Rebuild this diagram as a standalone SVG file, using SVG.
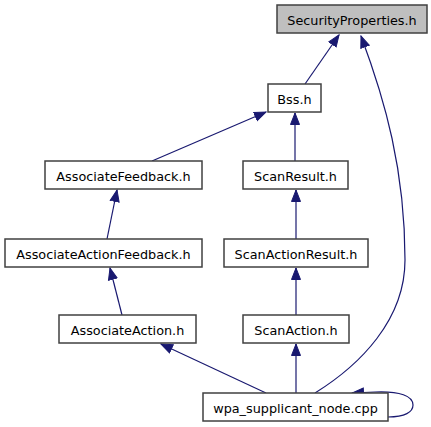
<svg xmlns="http://www.w3.org/2000/svg" width="431" height="427" viewBox="0 0 431 427">
<style>
.node rect{fill:#ffffff;stroke:#404040;stroke-width:1.5}
.node.root rect{fill:#bfbfbf}
.node text{font-family:"DejaVu Sans",sans-serif;font-size:12.8px;fill:#000000;text-anchor:middle}
.edges path{fill:none;stroke:#191970;stroke-width:1.2}
</style>
<defs>
<marker id="ah" markerUnits="userSpaceOnUse" markerWidth="13" markerHeight="11" viewBox="0 0 13 11" refX="12" refY="5.5" orient="auto">
<path d="M0.5,1 L12,5.5 L0.5,10 Z" fill="#191970" stroke="#191970" stroke-width="1"/>
</marker>
</defs>
<rect width="431" height="427" fill="#ffffff"/>
<g class="edges">
<path d="M305,84 L339,35" marker-end="url(#ah)"/>
<path d="M315,393 C360,365 405,320 405,260 C405,170 385,100 361,36" marker-end="url(#ah)"/>
<path d="M152,161 L266,112" marker-end="url(#ah)"/>
<path d="M295,161 L295,113" marker-end="url(#ah)"/>
<path d="M107,239 L117,190" marker-end="url(#ah)"/>
<path d="M296,239 L296,190" marker-end="url(#ah)"/>
<path d="M122,315 L110,268" marker-end="url(#ah)"/>
<path d="M296,315 L296,268" marker-end="url(#ah)"/>
<path d="M266,393 L161,344" marker-end="url(#ah)"/>
<path d="M296,393 L296,344" marker-end="url(#ah)"/>
<path d="M388,417 C405,417 413,412 413,405 C413,396 400,391 375,392 L352,393" marker-end="url(#ah)"/>
</g>
<g id="n_security" class="node root"><rect x="277" y="5" width="150" height="28"/><text x="352" y="24.5">SecurityProperties.h</text></g>
<g id="n_bss" class="node"><rect x="268" y="84" width="53" height="28"/><text x="294.5" y="103.5">Bss.h</text></g>
<g id="n_assocfeedback" class="node"><rect x="45" y="161" width="157" height="28"/><text x="123.5" y="180.5">AssociateFeedback.h</text></g>
<g id="n_scanresult" class="node"><rect x="243" y="161" width="105" height="28"/><text x="295.5" y="180.5">ScanResult.h</text></g>
<g id="n_assocactionfeedback" class="node"><rect x="5" y="239" width="197" height="28"/><text x="103.5" y="258.5">AssociateActionFeedback.h</text></g>
<g id="n_scanactionresult" class="node"><rect x="224" y="239" width="144" height="28"/><text x="296" y="258.5">ScanActionResult.h</text></g>
<g id="n_assocaction" class="node"><rect x="59" y="315" width="137" height="28"/><text x="127.5" y="334.5">AssociateAction.h</text></g>
<g id="n_scanaction" class="node"><rect x="243" y="315" width="106" height="28"/><text x="296" y="334.5">ScanAction.h</text></g>
<g id="n_wpa" class="node"><rect x="203" y="393" width="185" height="28"/><text x="295.5" y="412.5">wpa_supplicant_node.cpp</text></g>
</svg>
